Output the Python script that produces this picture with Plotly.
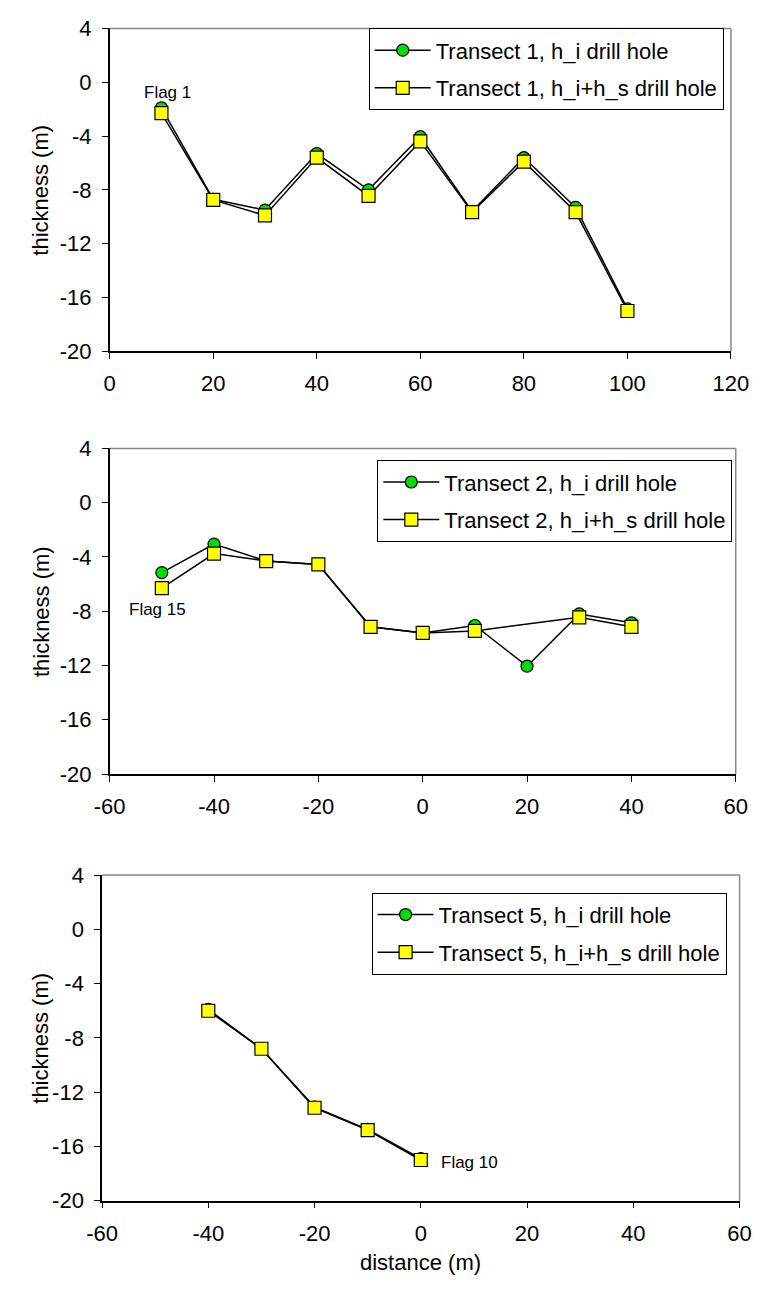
import plotly.graph_objects as go

W, H = 770, 1300

# ---------------- data ----------------
t1_x = [10, 20, 30, 40, 50, 60, 70, 80, 90, 100]
t1_hi = [-1.9, -8.7, -9.5, -5.3, -8.0, -4.05, -9.6, -5.6, -9.3, -16.85]
t1_his = [-2.3, -8.75, -9.9, -5.6, -8.45, -4.4, -9.65, -5.9, -9.65, -17.0]

t2_x = [-50, -40, -30, -20, -10, 0, 10, 20, 30, 40]
t2_hi = [-5.15, -3.05, -4.3, -4.55, -9.15, -9.6, -9.05, -12.05, -8.2, -8.85]
t2_his = [-6.3, -3.75, -4.3, -4.55, -9.15, -9.6, -9.45, None, -8.45, -9.15]

t5_x = [-40, -30, -20, -10, 0]
t5_hi = [-5.9, -8.8, -13.1, -14.75, -16.9]
t5_his = [-6.0, -8.8, -13.15, -14.8, -17.0]

names1 = ["Transect 1, h_i drill hole", "Transect 1, h_i+h_s drill hole"]
names2 = ["Transect 2, h_i drill hole", "Transect 2, h_i+h_s drill hole"]
names5 = ["Transect 5, h_i drill hole", "Transect 5, h_i+h_s drill hole"]

y_tickvals = [4, 0, -4, -8, -12, -16, -20]
y_ticktext = ["4", "0", "-4", "-8", "-12", "-16", "-20"]
x1_tickvals = [0, 20, 40, 60, 80, 100, 120]
x1_ticktext = ["0", "20", "40", "60", "80", "100", "120"]
x2_tickvals = [-60, -40, -20, 0, 20, 40, 60]
x2_ticktext = ["-60", "-40", "-20", "0", "20", "40", "60"]
x_range1 = [0, 120]
x_range2 = [-60, 60]
y_range = [-20, 4]

FONT = "Arial, Liberation Sans, sans-serif"
FS = 22
GREEN = "#00DD00"
YELLOW = "#FFFF00"

# pixel layout of the three plot areas
panels = [
    dict(top=16.7, bottom=346, left=98, right=748),
    dict(top=445, bottom=777, left=98, right=753),
    dict(top=880, bottom=1212, left=90, right=757),
]

fig = go.Figure()


def add_pair(xs, hi, his, names, ax, leg):
    xa = "x" if ax == 1 else f"x{ax}"
    ya = "y" if ax == 1 else f"y{ax}"
    fig.add_trace(go.Scatter(
        x=xs, y=hi, name=names[0], mode="lines+markers",
        xaxis=xa, yaxis=ya, legend=leg, legendgroup=f"{leg}a",
        line=dict(color="black", width=1.5),
        marker=dict(symbol="circle", size=12, color=GREEN,
                    line=dict(color="black", width=1.2)),
    ))
    fig.add_trace(go.Scatter(
        x=xs, y=his, name=names[1], mode="lines+markers",
        xaxis=xa, yaxis=ya, legend=leg, legendgroup=f"{leg}b",
        connectgaps=True,
        line=dict(color="black", width=1.5),
        marker=dict(symbol="square", size=13, color=YELLOW,
                    line=dict(color="black", width=1.2)),
    ))


add_pair(t1_x, t1_hi, t1_his, names1, 1, "legend")
add_pair(t2_x, t2_hi, t2_his, names2, 2, "legend2")
add_pair(t5_x, t5_hi, t5_his, names5, 3, "legend3")

layout = dict(
    width=W, height=H,
    margin=dict(l=0, r=0, t=0, b=0),
    paper_bgcolor="white", plot_bgcolor="white",
    font=dict(family=FONT, size=FS, color="black"),
    showlegend=True,
)

xr = [x_range1, x_range2, x_range2]
xtv = [x1_tickvals, x2_tickvals, x2_tickvals]
xtt = [x1_ticktext, x2_ticktext, x2_ticktext]
for i, p in enumerate(panels, start=1):
    sx = "" if i == 1 else str(i)
    xd = [p["left"] / W, p["right"] / W]
    yd = [1 - p["bottom"] / H, 1 - p["top"] / H]
    layout[f"xaxis{sx}"] = dict(
        domain=xd, range=xr[i - 1], anchor=f"y{sx}",
        tickvals=xtv[i - 1], ticktext=xtt[i - 1],
        showgrid=False, zeroline=False, showline=True, linecolor="black",
        linewidth=1.5, ticks="outside", ticklen=6, tickwidth=1.2,
        tickcolor="black", ticklabelstandoff=6,
        tickfont=dict(family=FONT, size=FS, color="black"),
    )
    layout[f"yaxis{sx}"] = dict(
        domain=yd, range=y_range, anchor=f"x{sx}",
        tickvals=y_tickvals, ticktext=y_ticktext,
        showgrid=False, zeroline=False, showline=True, linecolor="black",
        linewidth=1.5, ticks="outside", ticklen=6, tickwidth=1.2,
        tickcolor="black", ticklabelstandoff=6,
        tickfont=dict(family=FONT, size=FS, color="black"),
    )
    # inside ticks every 10 units
    layout[f"xaxis{i + 3}"] = dict(
        domain=xd, range=xr[i - 1], anchor=f"y{sx}", overlaying=f"x{sx}",
        dtick=10, showticklabels=False, showgrid=False, zeroline=False,
        showline=False, ticks="inside", ticklen=6, tickwidth=1.2,
        tickcolor="black",
    )

legend_style = dict(
    bgcolor="white", bordercolor="black", borderwidth=1,
    font=dict(family=FONT, size=FS, color="black"),
    itemwidth=56, tracegroupgap=6, xanchor="left", yanchor="top",
    itemclick=False,
)
layout["legend"] = dict(legend_style, x=369 / W, y=1 - 16.7 / H)
layout["legend2"] = dict(legend_style, x=378 / W, y=1 - 457 / H)
layout["legend3"] = dict(legend_style, x=372 / W, y=1 - 898 / H)

fig.update_layout(**layout)

# grey top/right frame lines
for i in range(1, 4):
    sx = "" if i == 1 else str(i)
    fig.add_shape(type="line", xref=f"x{sx} domain", yref=f"y{sx} domain",
                  x0=0, x1=1, y0=1, y1=1, line=dict(color="#888888", width=1.5))
    fig.add_shape(type="line", xref=f"x{sx} domain", yref=f"y{sx} domain",
                  x0=1, x1=1, y0=0, y1=1, line=dict(color="#888888", width=1.5))

# y-axis titles
for p in panels:
    fig.add_annotation(text="thickness (m)", xref="paper", yref="paper",
                       x=26 / W, y=1 - (p["top"] + p["bottom"]) / 2 / H,
                       textangle=-90, showarrow=False,
                       font=dict(family=FONT, size=FS, color="black"),
                       xanchor="center", yanchor="middle")

# x-axis title (bottom panel)
fig.add_annotation(text="distance (m)", xref="x3 domain", yref="paper",
                   x=0.5, y=1 - 1275 / H, showarrow=False,
                   font=dict(family=FONT, size=FS, color="black"),
                   xanchor="center", yanchor="middle")

# flag labels
fig.add_annotation(text="Flag 1", x=11.1, y=-0.75, xref="x", yref="y",
                   showarrow=False, font=dict(family=FONT, size=17, color="black"))
fig.add_annotation(text="Flag 15", x=-50.9, y=-7.9, xref="x2", yref="y2",
                   showarrow=False, font=dict(family=FONT, size=17, color="black"))
fig.add_annotation(text="Flag 10", x=3.5, y=-17.2, xref="x3", yref="y3",
                   xanchor="left", showarrow=False,
                   font=dict(family=FONT, size=17, color="black"))

fig.write_html("out.html", config={"displayModeBar": False},
               post_script="document.body.style.margin='0px';")
